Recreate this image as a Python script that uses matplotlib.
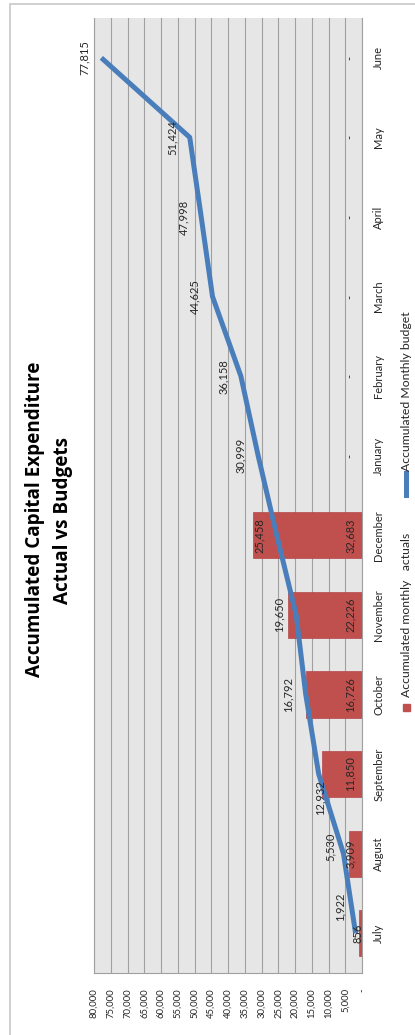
import numpy as np
import matplotlib.pyplot as plt
from matplotlib.patches import Rectangle
from matplotlib.lines import Line2D
from matplotlib.ticker import FuncFormatter

plt.rcParams['font.family'] = ['Lato', 'DejaVu Sans']

# Data
months = ['July', 'August', 'September', 'October', 'November', 'December',
          'January', 'February', 'March', 'April', 'May', 'June']
actuals = [856, 3909, 11850, 16726, 22226, 32683, 0, 0, 0, 0, 0, 0]
budget = [1922, 5530, 12932, 16792, 19650, 25458, 30999, 36158,
          44625, 47998, 51424, 77815]
value_ticks = list(range(0, 80001, 5000))

W, H = 415, 1035
red = '#c0504d'
blue = '#4a7ebb'


def fmt(v, pos=None):
    if v == 0:
        return '-'
    return '{:,.0f}'.format(v)


fig = plt.figure(figsize=(W / 100, H / 100), dpi=100)

# chart area border (cut off on the right and bottom)
fig.patches.append(Rectangle((10 / W, -0.05), 1.0, 1 - 4 / H + 0.05,
                             transform=fig.transFigure, fill=False,
                             edgecolor='#c8c8c8', lw=1.2))

# the chart is drawn turned on its side
ax = fig.add_axes([94 / W, 1 - 973 / H, (362 - 94) / W, (973 - 18) / H])
ax.set_facecolor('#e6e6e6')
y = np.arange(len(months))
ax.barh(y, actuals, height=0.58, color=red, edgecolor='#b4474a', lw=0.5, zorder=2)
ax.plot(budget, y, color=blue, lw=3.6, solid_joinstyle='round',
        solid_capstyle='butt', zorder=3)

ax.set_xlim(80000, 0)
ax.set_ylim(-0.5, len(months) - 0.5)
ax.set_xticks(value_ticks)
ax.xaxis.set_major_formatter(FuncFormatter(fmt))
ax.tick_params(axis='x', length=0, labelrotation=90, pad=11, labelsize=6.8,
               labelcolor='#262626')
ax.grid(axis='x', color='#a0a0a0', lw=0.8, zorder=1)
ax.set_axisbelow(True)

ax.yaxis.tick_right()
ax.set_yticks(y)
ax.set_yticklabels(months, rotation=90, va='center')
ax.tick_params(axis='y', length=0, pad=8, labelsize=8, labelcolor='#262626')

for s in ['left', 'right', 'bottom']:
    ax.spines[s].set_color('#a0a0a0')
    ax.spines[s].set_linewidth(0.8)
ax.spines['top'].set_visible(False)

# data labels
line_nudge = {0: (-11.2, 18.7), 1: (-9.7, 5), 2: (1, -17)}
for i, v in enumerate(budget):
    off = line_nudge.get(i, (-12.5, 0))
    ax.annotate(fmt(v), (v, i), xytext=off, textcoords='offset points',
                rotation=90, ha='center', va='center', fontsize=8,
                color='#262626', zorder=4)

bar_nudge = {0: (-3.2, 0)}
for i, v in enumerate(actuals):
    off = bar_nudge.get(i, (-8.6, 0))
    ax.annotate(fmt(v), (0, i), xytext=off, textcoords='offset points',
                rotation=90, ha='center', va='center', fontsize=8,
                color='#262626', zorder=4)

# title
fig.text(35 / W, 1 - 519 / H, 'Accumulated Capital Expenditure', rotation=90,
         ha='center', va='center', fontsize=13.6, fontweight='bold',
         family=['Open Sans', 'DejaVu Sans'])
fig.text(63 / W, 1 - 520 / H, 'Actual vs Budgets', rotation=90,
         ha='center', va='center', fontsize=13.6, fontweight='bold',
         family=['Open Sans', 'DejaVu Sans'])

# legend
fig.patches.append(Rectangle((403 / W, 1 - 711 / H), 7 / W, 7 / H,
                             transform=fig.transFigure, color=red))
fig.text(406.5 / W, 1 - 697 / H, 'Accumulated monthly   actuals', rotation=90,
         ha='center', va='bottom', fontsize=8.8, color='#262626')
fig.lines.append(Line2D([405.5 / W, 405.5 / W], [1 - 495 / H, 1 - 473 / H],
                        transform=fig.transFigure, color=blue, lw=3.6))
fig.text(406.5 / W, 1 - 471 / H, 'Accumulated Monthly budget', rotation=90,
         ha='center', va='bottom', fontsize=8.8, color='#262626')

plt.savefig('out.png', dpi=100)
